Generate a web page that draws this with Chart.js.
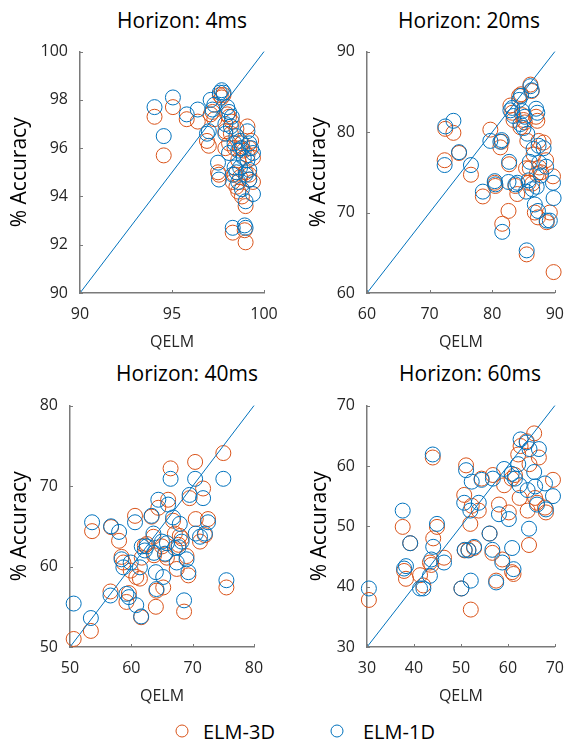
<!DOCTYPE html>
<html lang="en">
<head>
    <meta charset="UTF-8">
    <title>QELM vs ELM accuracy</title>
    <script src="https://cdn.jsdelivr.net/npm/chart.js@4.4.0/dist/chart.umd.min.js"></script>
    <style>
        body {
            margin: 0;
            background: white;
            font-family: "Open Sans", sans-serif;
        }
        #page {
            position: relative;
            width: 576px;
            height: 742px;
        }
        canvas, .ttl, .leg {
            position: absolute;
        }
        .ttl {
            font-size: 21px;
            color: black;
            white-space: nowrap;
            transform: translate(-50%, -50%);
        }
        .leg {
            font-size: 20px;
            color: black;
            transform: translateY(-50%);
            white-space: nowrap;
        }
        .dot {
            position: absolute;
            width: 11px;
            height: 11px;
            border-radius: 50%;
            border: 1.3px solid;
            transform: translate(-50%, -50%);
        }
    </style>
</head>
<body>
<div id="page">
    <div class="ttl" style="left:182px; top:20px">Horizon: 4ms</div>
    <div class="ttl" style="left:469px; top:20px">Horizon: 20ms</div>
    <div class="ttl" style="left:187px; top:373px">Horizon: 40ms</div>
    <div class="ttl" style="left:470px; top:373px">Horizon: 60ms</div>

    <canvas id="c1"></canvas>
    <canvas id="c2"></canvas>
    <canvas id="c3"></canvas>
    <canvas id="c4"></canvas>

    <div class="dot" style="left:182px; top:731px; border-color:#D95319"></div>
    <div class="leg" style="left:203px; top:731px">ELM-3D</div>
    <div class="dot" style="left:337px; top:731px; border-color:#0072BD"></div>
    <div class="leg" style="left:363px; top:731px">ELM-1D</div>
</div>

<script>
    // ---- data: x = QELM accuracy, y = ELM accuracy (same x for both series)
    const h4X    = [94.05,94.55,95.05,95.8,96.4,96.9,97.0,97.1,97.2,97.3,97.5,97.55,97.6,97.7,97.8,97.9,97.9,98.0,98.1,98.1,98.2,98.25,98.3,98.3,98.4,98.4,98.5,98.5,98.6,98.6,98.7,98.7,98.8,98.8,98.9,98.95,99.0,99.0,99.0,99.1,99.1,99.2,99.2,99.3,99.4,99.4,99.2];
    const h4Elm1 = [97.7,96.5,98.1,97.4,97.6,96.6,96.7,98.0,97.6,97.8,95.4,94.7,98.3,98.4,98.3,97.0,96.6,97.7,97.5,95.8,96.9,97.3,94.9,92.7,96.2,95.2,95.0,96.5,94.6,95.9,96.3,95.2,94.3,96.0,95.6,92.8,92.7,94.9,93.8,96.7,95.5,95.1,96.2,96.0,94.1,95.8,94.7];
    const h4Elm3 = [97.3,95.7,97.7,97.2,97.1,96.3,96.1,97.4,97.5,97.2,95.0,94.9,98.2,98.1,98.2,96.7,96.0,97.4,97.3,96.2,96.6,97.1,94.6,92.5,96.0,94.9,94.4,96.8,94.2,95.5,96.0,94.8,94.0,96.2,95.9,92.6,92.1,95.0,93.6,96.9,95.7,94.7,96.0,96.3,94.6,95.6,94.9];

    const h20X    = [72.5,72.4,73.8,74.7,76.6,78.5,79.7,80.4,80.5,81.3,81.5,81.6,82.7,82.9,83.2,83.4,83.7,82.6,84.0,84.3,84.6,84.5,84.8,85.0,85.2,85.4,85.5,85.6,85.8,86.0,86.1,86.3,86.4,86.6,86.8,87.0,87.1,87.2,87.3,87.4,87.5,87.8,88.2,88.6,88.7,89.2,89.7,89.8];
    const h20Elm1 = [80.7,75.9,81.4,77.5,75.9,72.6,78.9,73.9,73.5,78.8,79.0,67.6,76.3,82.7,83.0,82.0,73.5,73.8,73.7,84.0,84.5,81.0,82.6,80.5,81.9,72.6,65.3,79.8,74.0,76.3,85.7,85.2,72.9,77.9,71.0,82.9,73.2,82.4,70.2,78.3,76.2,74.6,78.0,75.7,69.0,69.0,73.7,71.8];
    const h20Elm3 = [80.4,76.5,79.9,77.4,74.7,72.0,80.3,73.7,73.3,78.1,78.8,68.6,76.0,83.3,82.4,81.5,73.3,70.2,72.3,84.5,84.7,80.6,82.1,81.5,81.2,75.5,64.8,78.9,73.7,75.5,85.9,85.1,73.6,77.2,70.0,81.9,74.8,81.4,69.4,78.9,75.6,75.0,78.7,76.5,68.8,70.0,74.5,62.6];

    const h40X    = [50.6,53.4,53.6,56.6,56.7,58.0,58.4,58.7,59.2,59.6,59.9,60.6,60.8,61.4,61.6,61.7,62.5,63.3,63.6,63.7,64.0,64.1,64.4,65.0,65.2,65.5,66.0,66.4,66.8,67.1,67.4,67.9,68.2,68.6,69.0,69.3,69.5,70.4,70.5,71.2,71.7,72.0,72.5,75.0,75.5,62.2,65.8,67.7];
    const h40Elm1 = [55.4,53.6,65.5,56.4,65.0,64.3,60.9,59.9,56.6,56.2,60.5,65.5,55.2,59.9,53.8,62.5,62.5,66.3,64.1,61.7,59.3,57.2,68.3,63.1,58.7,61.6,67.7,70.9,66.1,62.3,60.5,65.3,63.1,55.8,60.9,59.3,68.9,70.9,64.1,63.7,68.5,64.1,65.5,70.9,58.3,62.0,62.9,62.4];
    const h40Elm3 = [51.0,52.0,64.4,56.9,64.9,63.2,61.2,60.5,55.6,56.7,59.5,66.3,58.7,58.5,53.7,61.1,62.8,66.2,63.7,61.4,55.0,57.0,67.3,62.5,57.4,61.5,68.3,72.2,65.7,64.1,59.7,63.8,63.5,54.4,61.3,58.9,68.5,73.0,65.9,63.1,69.7,63.9,65.9,74.1,57.4,62.6,61.1,62.7];

    const h60X    = [30.4,37.6,37.9,38.3,39.2,41.3,42.0,43.4,43.7,44.0,44.1,44.9,46.4,50.1,50.7,51.1,50.8,51.6,52.0,52.1,52.3,52.8,53.8,54.4,56.1,56.7,56.8,57.5,58.1,58.8,59.2,60.2,60.8,60.9,61.2,61.5,62.2,62.5,62.7,64.2,64.5,64.6,65.6,65.8,66.2,66.6,67.9,68.1,69.6,64.0];
    const h60Elm1 = [39.7,52.6,43.0,43.4,47.2,39.7,39.7,41.8,44.5,61.9,46.6,50.4,44.0,39.7,53.9,59.3,46.1,46.0,52.6,41.0,57.4,46.6,53.9,57.7,48.8,46.1,57.9,40.7,52.0,44.0,59.5,51.2,58.7,46.4,42.9,57.9,60.3,56.8,64.4,56.0,49.6,62.8,59.0,56.6,53.6,62.8,57.1,52.8,55.0,63.9];
    const h60Elm3 = [37.8,49.9,42.6,41.3,47.2,41.9,40.2,44.0,43.6,61.4,48.0,49.9,44.8,39.7,55.2,60.1,46.0,46.1,50.4,36.2,53.4,46.4,52.6,57.9,48.8,45.6,58.5,41.0,53.6,44.5,56.8,52.3,57.9,42.4,42.1,58.5,61.9,54.7,63.3,52.6,46.9,60.3,65.4,54.7,53.9,61.4,53.1,52.3,57.7,64.1];

    // axis ticks per panel
    const h4Ticks  = [90, 92, 94, 96, 98, 100];
    const h4XTicks = [90, 95, 100];
    const h20Ticks = [60, 70, 80, 90];
    const h40Ticks = [50, 60, 70, 80];
    const h60Ticks = [30, 40, 50, 60, 70];

    const orange = "#D95319";
    const blue = "#0072BD";
    const axisColor = "#7a7a7a";

    // MATLAB style inward tick marks
    const innerTicks = {
        id: "innerTicks",
        afterDraw(chart) {
            const {ctx, chartArea: a, scales: {x, y}} = chart;
            ctx.save();
            ctx.strokeStyle = axisColor;
            ctx.lineWidth = 1;
            ctx.beginPath();
            x.ticks.forEach(t => {
                const px = Math.round(x.getPixelForValue(t.value)) + 0.5;
                ctx.moveTo(px, a.bottom);
                ctx.lineTo(px, a.bottom - 3);
            });
            y.ticks.forEach(t => {
                const py = Math.round(y.getPixelForValue(t.value)) + 0.5;
                ctx.moveTo(a.left, py);
                ctx.lineTo(a.left + 3, py);
            });
            ctx.stroke();
            ctx.restore();
        }
    };

    function pts(xs, ys) {
        return xs.map((v, i) => ({x: v, y: ys[i]}));
    }

    function panel(id, box, xs, y1, y3, yTicks, xTicks, yAxisW) {
        const cv = document.getElementById(id);
        cv.style.left = box.left + "px";
        cv.style.top = box.top + "px";
        cv.width = box.w;
        cv.height = box.h;
        const lo = yTicks[0], hi = yTicks[yTicks.length - 1];
        return new Chart(cv, {
            type: "scatter",
            data: {
                datasets: [{
                    type: "line",
                    data: [{x: lo, y: lo}, {x: hi, y: hi}],
                    borderColor: blue,
                    borderWidth: 1,
                    pointRadius: 0,
                    clip: false
                }, {
                    label: "ELM-1D",
                    data: pts(xs, y1),
                    borderColor: blue,
                    backgroundColor: "transparent",
                    borderWidth: 1,
                    pointRadius: 7.5,
                    clip: false
                }, {
                    label: "ELM-3D",
                    data: pts(xs, y3),
                    borderColor: orange,
                    backgroundColor: "transparent",
                    borderWidth: 1,
                    pointRadius: 7.5,
                    clip: false
                }]
            },
            options: {
                responsive: false,
                animation: false,
                events: [],
                layout: { padding: {top: 14, right: box.padR, bottom: 0, left: 0} },
                plugins: { legend: {display: false}, tooltip: {enabled: false} },
                scales: {
                    x: {
                        type: "linear",
                        min: xTicks[0], max: xTicks[xTicks.length - 1],
                        afterBuildTicks: s => { s.ticks = xTicks.map(v => ({value: v})); },
                        afterFit: s => { s.height = 59; },
                        grid: {display: false, drawTicks: false},
                        border: {color: axisColor, width: 1.5},
                        ticks: {padding: 12, color: "#262626", autoSkip: false, maxRotation: 0,
                                font: {family: "Open Sans", size: 16}},
                        title: {display: true, text: "QELM", color: "#262626",
                                font: {family: "Open Sans", size: 16}, padding: {top: 0, bottom: 0}}
                    },
                    y: {
                        type: "linear",
                        min: lo, max: hi,
                        afterBuildTicks: s => { s.ticks = yTicks.map(v => ({value: v})); },
                        afterFit: s => { s.width = yAxisW; },
                        grid: {display: false, drawTicks: false},
                        border: {color: axisColor, width: 1.5},
                        ticks: {padding: 12, color: "#262626", autoSkip: false,
                                font: {family: "Open Sans", size: 16}},
                        title: {display: true, text: "% Accuracy", color: "black",
                                font: {family: "Open Sans", size: 21}, padding: {top: 0, bottom: 0}}
                    }
                }
            },
            plugins: [innerTicks]
        });
    }

    panel("c1", {left: 7, top: 30, w: 283, h: 322, padR: 26}, h4X, h4Elm1, h4Elm3, h4Ticks, h4XTicks, 73);
    panel("c2", {left: 306, top: 30, w: 270, h: 322, padR: 11}, h20X, h20Elm1, h20Elm3, h20Ticks, h20Ticks, 61);
    panel("c3", {left: 7, top: 384, w: 283, h: 322, padR: 36}, h40X, h40Elm1, h40Elm3, h40Ticks, h40Ticks, 63);
    panel("c4", {left: 307, top: 384, w: 269, h: 322, padR: 11}, h60X, h60Elm1, h60Elm3, h60Ticks, h60Ticks, 60);
</script>
</body>
</html>
